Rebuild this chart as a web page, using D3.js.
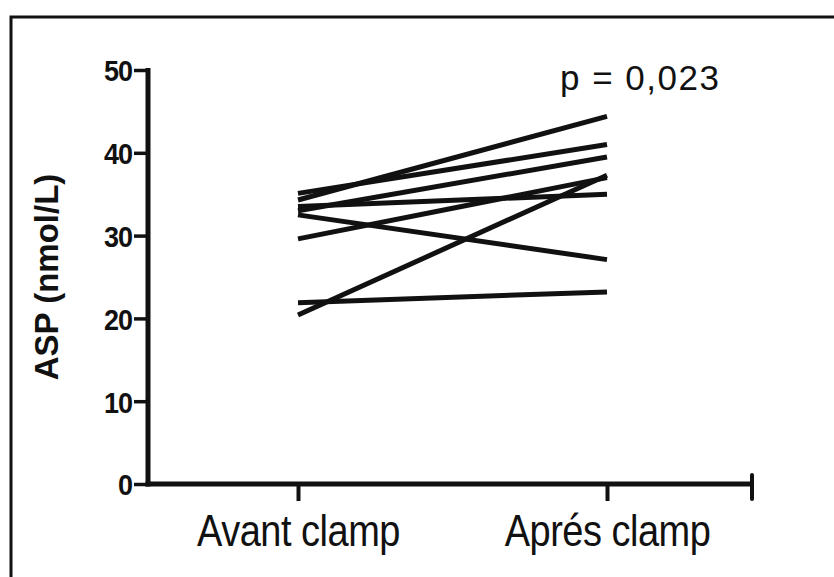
<!DOCTYPE html>
<html>
<head>
<meta charset="utf-8">
<script src="https://cdn.jsdelivr.net/npm/d3@7"></script>
<style>
  html, body { margin: 0; padding: 0; background: #fff; }
  svg { display: block; }
  text { font-family: "Liberation Sans", Arial, Helvetica, sans-serif; fill: #111; }
</style>
</head>
<body>
<svg id="chart" width="834" height="577"></svg>
<script>
// Paired ASP measurements, one line per subject
const categories = ["Avant clamp", "Aprés clamp"];
const avant = [35.1, 34.3, 33.5, 33.0, 32.5, 29.6, 21.9, 20.4];
const apres = [41.0, 44.4, 35.0, 39.5, 27.1, 37.0, 23.2, 37.3];
const yTicks = [0, 10, 20, 30, 40, 50];
const yTitle = "ASP (nmol/L)";
const pLabel = "p = 0,023";

const svg = d3.select("#chart");
const ink = "#111";

// frame
svg.append("path")
  .attr("d", "M11,577 V17 H834")
  .attr("fill", "none").attr("stroke", ink).attr("stroke-width", 3);

const axisLeftX = 148, axisRightX = 752;
const y = d3.scaleLinear().domain([0, 50]).range([484, 70]);
const x = d3.scalePoint().domain(categories).range([298, 607]);

// y axis
const yAxis = svg.append("g")
  .attr("transform", `translate(${axisLeftX},0)`)
  .call(d3.axisLeft(y).tickValues(yTicks).tickSize(14).tickPadding(2).tickFormat(d3.format("d")));
yAxis.select(".domain").remove();
yAxis.selectAll(".tick line").attr("stroke", ink).attr("stroke-width", 3.5);
yAxis.selectAll(".tick text")
  .attr("fill", ink)
  .attr("transform", "scale(1,1.12)")
  .style("font-size", "27px").style("font-weight", "bold")
  .style("letter-spacing", "-1px")
  .attr("dy", "0.36em");

svg.append("line")
  .attr("x1", axisLeftX).attr("x2", axisLeftX)
  .attr("y1", y(50) - 2).attr("y2", y(0) + 2.5)
  .attr("stroke", ink).attr("stroke-width", 5);

// x axis
const xAxis = svg.append("g")
  .attr("transform", `translate(0,${y(0)})`)
  .call(d3.axisBottom(x).tickSize(17).tickPadding(10));
xAxis.select(".domain").remove();
xAxis.selectAll(".tick line").attr("stroke", ink).attr("stroke-width", 4);
xAxis.selectAll(".tick text")
  .attr("fill", ink)
  .attr("transform", "scale(1,1.15)")
  .style("font-size", "38px")
  .style("letter-spacing", "-0.5px");

svg.append("line")
  .attr("x1", axisLeftX - 2.5).attr("x2", axisRightX)
  .attr("y1", y(0)).attr("y2", y(0))
  .attr("stroke", ink).attr("stroke-width", 5);
svg.append("line")
  .attr("x1", axisRightX).attr("x2", axisRightX)
  .attr("y1", y(0) - 9).attr("y2", y(0) + 15)
  .attr("stroke", ink).attr("stroke-width", 4).attr("stroke-linecap", "round");

// y axis title
svg.append("text")
  .attr("transform", `translate(58,${(y(0) + y(50)) / 2}) rotate(-90)`)
  .attr("text-anchor", "middle")
  .style("font-size", "33px").style("font-weight", "bold")
  .text(yTitle);

// paired lines
const pairs = avant.map((v, i) => [[categories[0], v], [categories[1], apres[i]]]);
const line = d3.line().x(d => x(d[0])).y(d => y(d[1]));
svg.append("g").selectAll("path").data(pairs).join("path")
  .attr("d", line)
  .attr("fill", "none").attr("stroke", ink).attr("stroke-width", 5);

// significance
svg.append("text")
  .attr("x", 560).attr("y", 90)
  .style("font-size", "35px")
  .style("letter-spacing", "1.5px")
  .text(pLabel);
</script>
</body>
</html>
